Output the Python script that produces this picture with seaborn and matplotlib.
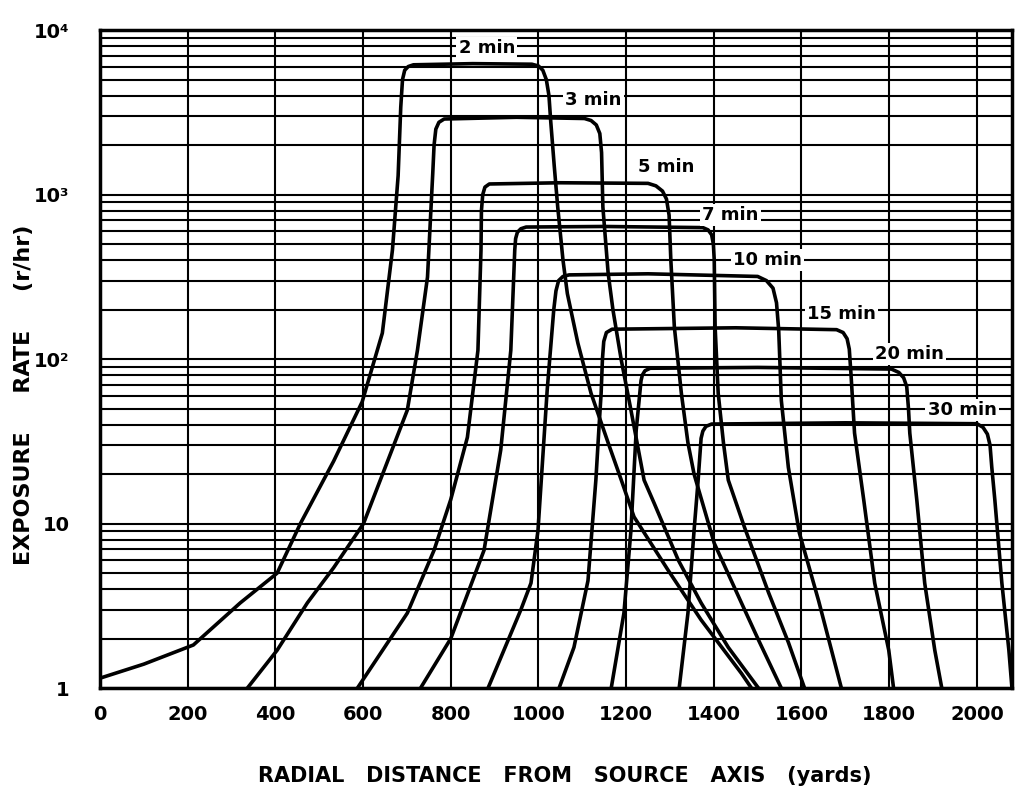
import pandas as pd
import matplotlib
matplotlib.use('Agg')
import matplotlib.pyplot as plt
import seaborn as sns
from matplotlib.ticker import FixedLocator, NullFormatter

# distance (yards) / exposure rate (r/hr), one pair per curve
x_2min = [0, 100, 213, 320, 404, 457, 533, 598, 644, 667, 680, 686, 690, 695, 703, 715, 850, 985, 1000, 1010,
          1018, 1024, 1028, 1036, 1044, 1056, 1066, 1090, 1120, 1159, 1189, 1218, 1296, 1371, 1463, 1486]
y_2min = [1.15, 1.4, 1.83, 3.3, 5.0, 10, 24, 55, 144, 460, 1300, 3400, 5000, 5700, 6000, 6150, 6250, 6200, 6050, 5700,
          5000, 4000, 2800, 1500, 840, 400, 250, 125, 62, 31, 18.4, 11, 5.2, 2.6, 1.23, 1.0]

x_3min = [336, 404, 473, 533, 601, 701, 724, 747, 759, 762, 766, 773, 785, 950, 1105, 1120, 1132, 1140, 1144,
          1147, 1159, 1170, 1189, 1211, 1241, 1264, 1319, 1371, 1433, 1502]
y_3min = [1.0, 1.7, 3.3, 5.4, 10, 49, 113, 315, 1350, 2000, 2500, 2750, 2880, 2950, 2900, 2820, 2650, 2350, 1800,
          840, 333, 199, 98.5, 49, 18.4, 13.3, 6, 3.3, 1.77, 1.0]

x_5min = [587, 701, 762, 800, 838, 862, 869, 870, 873, 878, 888, 1050, 1250, 1268, 1283, 1292, 1298, 1302,
          1310, 1326, 1341, 1355, 1401, 1463, 1502, 1554]
y_5min = [1.0, 2.86, 6.9, 14, 33.5, 113, 460, 800, 1000, 1110, 1160, 1180, 1170, 1130, 1050, 940, 750, 400,
          157, 62, 31, 20, 7.6, 3.3, 1.96, 1.0]

x_7min = [731, 800, 876, 914, 937, 946, 948, 952, 960, 972, 1150, 1375, 1387, 1395, 1399, 1401, 1403, 1410,
          1422, 1433, 1470, 1525, 1570, 1607]
y_7min = [1.0, 2.0, 6.9, 28, 113, 460, 540, 590, 620, 635, 640, 630, 610, 570, 500, 400, 157, 62,
          31, 18.4, 9.5, 3.8, 1.9, 1.0]

x_10min = [885, 960, 983, 999, 1020, 1035, 1040, 1046, 1056, 1070, 1250, 1500, 1520, 1535, 1543, 1548, 1554,
           1570, 1595, 1639, 1691]
y_10min = [1.0, 3.0, 4.35, 9.1, 65, 200, 260, 300, 318, 325, 330, 318, 300, 270, 220, 150, 56,
           22, 8.8, 3.4, 1.0]

x_15min = [1047, 1081, 1113, 1131, 1138, 1143, 1146, 1149, 1155, 1168, 1450, 1680, 1695, 1704, 1709, 1713,
           1721, 1742, 1767, 1799, 1810]
y_15min = [1.0, 1.77, 4.5, 18.4, 38, 62, 100, 128, 145, 152, 155, 151, 145, 133, 115, 80,
           35.5, 13.9, 4.35, 1.7, 1.0]

x_20min = [1166, 1195, 1211, 1223, 1234, 1237, 1243, 1255, 1500, 1805, 1822, 1833, 1840, 1844, 1847, 1863,
           1881, 1904, 1920]
y_20min = [1.0, 2.86, 9.1, 37, 74, 80, 85, 88, 89, 87, 83, 77, 68, 50, 35.5, 13.9, 4.35, 1.7, 1.0]

x_30min = [1321, 1341, 1355, 1364, 1371, 1375, 1382, 1395, 1700, 2000, 2014, 2024, 2030, 2034, 2041, 2057,
           2073, 2080]
y_30min = [1.0, 2.86, 9.1, 18, 33, 36.5, 39, 40.3, 41, 40.5, 38.5, 35, 30, 22, 13.9, 4.35, 1.7, 1.0]

curve_names = ['2 min', '3 min', '5 min', '7 min', '10 min', '15 min', '20 min', '30 min']
curve_x = [x_2min, x_3min, x_5min, x_7min, x_10min, x_15min, x_20min, x_30min]
curve_y = [y_2min, y_3min, y_5min, y_7min, y_10min, y_15min, y_20min, y_30min]

# label anchor points (data coords) for each curve
label_x = [882, 1125, 1291, 1438, 1522, 1691, 1847, 1966]
label_y = [7780, 3750, 1470, 750, 400, 188, 107, 49]

x_ticks = [0, 200, 400, 600, 800, 1000, 1200, 1400, 1600, 1800, 2000]
y_ticks = [1, 10, 100, 1000, 10000]
y_tick_labels = ['1', '10', '10²', '10³', '10⁴']

frames = []
for name, xs, ys in zip(curve_names, curve_x, curve_y):
    frames.append(pd.DataFrame({'distance': xs, 'rate': ys, 'time': name}))
df = pd.concat(frames, ignore_index=True)

sns.set_style('white')
plt.rcParams['font.family'] = ['DejaVu Sans']
plt.rcParams['font.weight'] = 'bold'
for key in ['text.color', 'axes.labelcolor', 'xtick.color', 'ytick.color']:
    plt.rcParams[key] = 'black'

fig = plt.figure(figsize=(10.15, 7.91), dpi=100)
ax = fig.add_axes([0.0985, 0.130, 0.8985, 0.832])

ax.set_yscale('log')
ax.set_xlim(0, 2080)
ax.set_ylim(1, 10000)

# graph-paper grid
minor_y = [m * 10 ** d for d in range(4) for m in range(2, 10)]
ax.yaxis.set_major_locator(FixedLocator(y_ticks))
ax.yaxis.set_minor_locator(FixedLocator(minor_y))
ax.yaxis.set_minor_formatter(NullFormatter())
ax.set_xticks(x_ticks)
ax.grid(which='both', axis='y', color='black', linewidth=1.5, zorder=1)
ax.grid(which='major', axis='x', color='black', linewidth=1.5, zorder=1)
ax.set_axisbelow(True)

sns.lineplot(data=df, x='distance', y='rate', hue='time', units='time', estimator=None,
             palette=['black'] * len(curve_names), legend=False, linewidth=2.6, sort=False, ax=ax,
             zorder=3)

for name, lx, ly in zip(curve_names, label_x, label_y):
    ax.text(lx, ly, name, fontsize=13, fontweight='bold', ha='center', va='center', zorder=5,
            bbox=dict(facecolor='white', edgecolor='none', pad=1.5))

for side in ['left', 'right', 'top', 'bottom']:
    ax.spines[side].set_visible(True)
    ax.spines[side].set_color('black')
    ax.spines[side].set_linewidth(2.5)

ax.set_yticklabels(y_tick_labels)
ax.tick_params(axis='both', which='both', length=0)
ax.tick_params(axis='x', labelsize=14, pad=12)
ax.tick_params(axis='y', labelsize=14, pad=22)

ax.set_xlabel('RADIAL   DISTANCE   FROM   SOURCE   AXIS   (yards)', fontsize=15, fontweight='bold')
ax.set_ylabel('EXPOSURE     RATE     (r/hr)', fontsize=16, fontweight='bold')
ax.xaxis.set_label_coords(0.51, -0.118)
ax.yaxis.set_label_coords(-0.072, 0.445)

fig.savefig('out.png', dpi=100)
plt.close(fig)
